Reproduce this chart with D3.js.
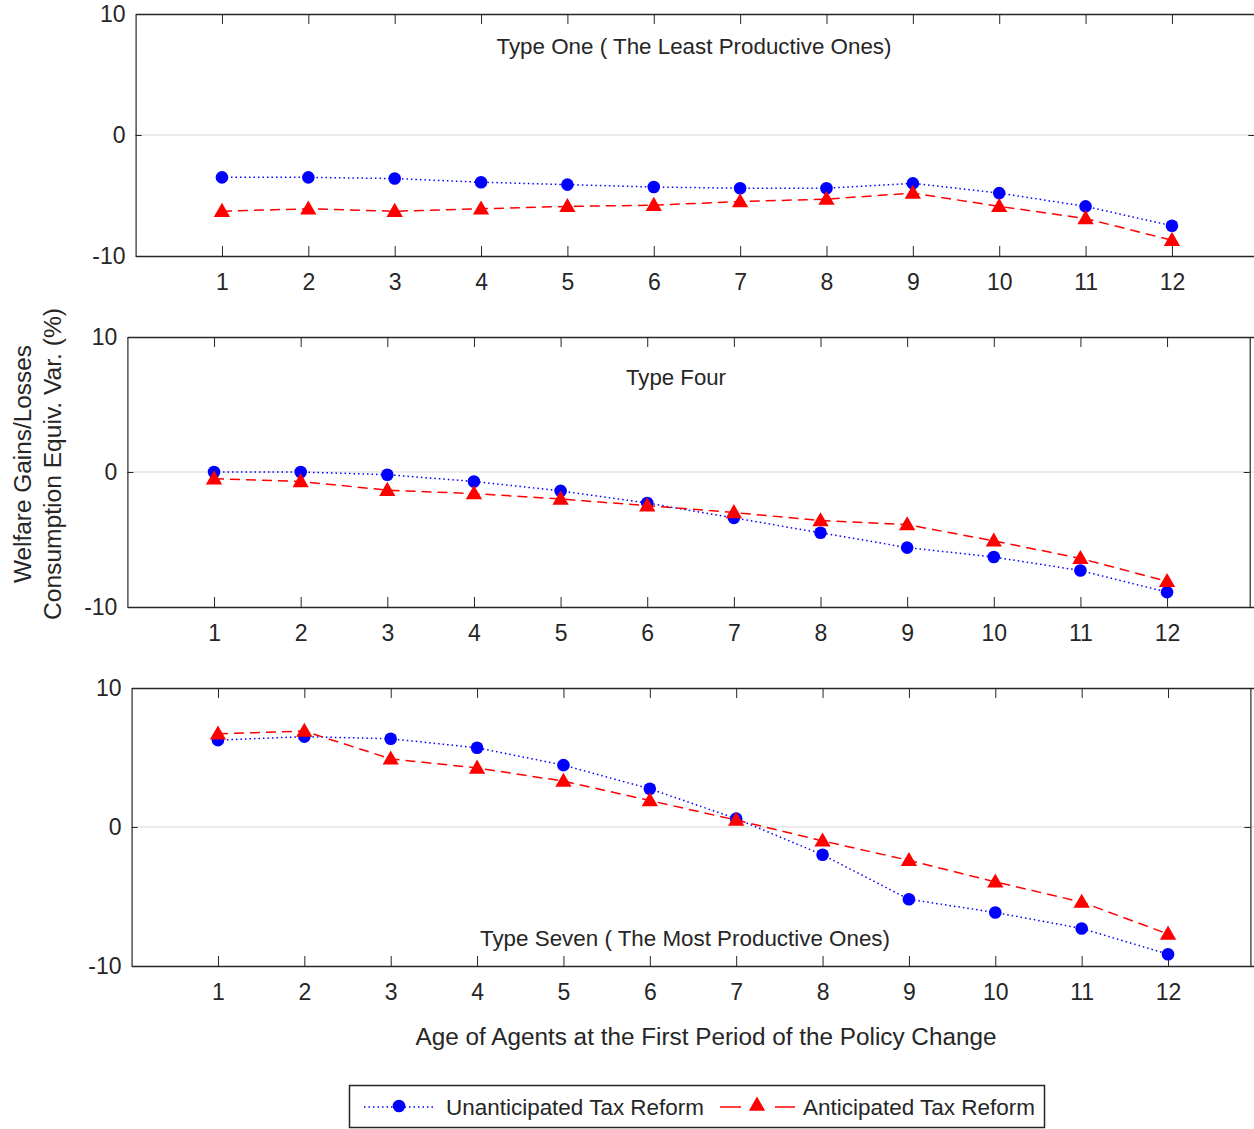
<!DOCTYPE html>
<html>
<head>
<meta charset="utf-8">
<script src="https://cdn.jsdelivr.net/npm/d3@7"></script>
<style>
  body { margin: 0; background: #fff; }
  text { font-family: "Liberation Sans", Arial, sans-serif; fill: #262626; }
  text.title { font-family: "Liberation Sans Narrow", "Arial Narrow", "Liberation Sans", sans-serif; }
</style>
</head>
<body>
<svg id="chart" width="1254" height="1129"></svg>
<script>
// data
const ages = [1, 2, 3, 4, 5, 6, 7, 8, 9, 10, 11, 12];
const yTicks = [-10, 0, 10];

const unanticipatedOne   = [-3.5, -3.5, -3.6, -3.9, -4.1, -4.3, -4.4, -4.4, -4.0, -4.8, -5.9, -7.5];
const anticipatedOne     = [-6.3, -6.1, -6.3, -6.1, -5.9, -5.8, -5.5, -5.3, -4.8, -5.9, -6.9, -8.7];
const unanticipatedFour  = [0.0, 0.0, -0.2, -0.7, -1.4, -2.3, -3.4, -4.5, -5.6, -6.3, -7.3, -8.9];
const anticipatedFour    = [-0.5, -0.7, -1.35, -1.6, -2.0, -2.5, -3.0, -3.6, -3.9, -5.1, -6.4, -8.1];
const unanticipatedSeven = [6.25, 6.5, 6.35, 5.7, 4.45, 2.75, 0.6, -2.0, -5.2, -6.15, -7.3, -9.15];
const anticipatedSeven   = [6.7, 6.9, 4.9, 4.25, 3.3, 1.9, 0.5, -1.0, -2.4, -3.95, -5.4, -7.7];

const titles = ["Type One ( The Least Productive Ones)", "Type Four", "Type Seven ( The Most Productive Ones)"];

const blue = "#0000ff", red = "#ff0000", ink = "#262626";

// panel boxes (pixel geometry only)
const panels = [
  {x0: 135.6, x1: 1258.3, top: 14,  bottom: 256, unant: unanticipatedOne,   ant: anticipatedOne,   title: titles[0], tx: 694, ty: 54,  tw: 395},
  {x0: 127.4, x1: 1253.7, top: 337, bottom: 607, unant: unanticipatedFour,  ant: anticipatedFour,  title: titles[1], tx: 676, ty: 385, tw: 100},
  {x0: 131.6, x1: 1254.4, top: 688, bottom: 966, unant: unanticipatedSeven, ant: anticipatedSeven, title: titles[2], tx: 685, ty: 946, tw: 410}
];

const svg = d3.select("#chart");

const tri = d3.symbol().type(d3.symbolTriangle).size(115);
const plain = d => String(d);   // MATLAB uses a hyphen, not a unicode minus

panels.forEach(p => {
  const x = d3.scaleLinear().domain([0, 13]).range([p.x0, p.x1]);
  const y = d3.scaleLinear().domain([-10, 10]).range([p.bottom, p.top]);
  const g = svg.append("g");

  // zero gridline
  g.append("line")
    .attr("x1", x(0)).attr("x2", x(13))
    .attr("y1", y(0)).attr("y2", y(0))
    .attr("stroke", "#e3e3e3").attr("stroke-width", 1.5);

  // bottom axis with inward ticks
  const xb = d3.axisBottom(x).tickValues(ages).tickSizeInner(-10).tickSizeOuter(0).tickPadding(18).tickFormat(plain);
  const gb = g.append("g").attr("transform", `translate(0,${p.bottom})`).call(xb);
  gb.select(".domain").attr("stroke", ink).attr("stroke-width", 1.5);
  gb.selectAll(".tick line").attr("stroke", ink);
  gb.selectAll(".tick text").style("font-size", "23px").attr("fill", ink).attr("dy", "0.71em");

  // top axis ticks
  const xt = d3.axisTop(x).tickValues(ages).tickSizeInner(-10).tickSizeOuter(0).tickFormat("");
  const gt = g.append("g").attr("transform", `translate(0,${p.top})`).call(xt);
  gt.select(".domain").attr("stroke", ink).attr("stroke-width", 1.5);
  gt.selectAll(".tick line").attr("stroke", ink);

  // left axis
  const yl = d3.axisLeft(y).tickValues(yTicks).tickSizeInner(-6).tickSizeOuter(0).tickPadding(10).tickFormat(plain);
  const gl = g.append("g").attr("transform", `translate(${x(0)},0)`).call(yl);
  gl.select(".domain").attr("stroke", ink).attr("stroke-width", 1.2);
  gl.selectAll(".tick line").attr("stroke", ink);
  gl.selectAll(".tick text").style("font-size", "23px").attr("fill", ink);

  // right edge
  const yr = d3.axisRight(y).tickValues(yTicks).tickSizeInner(-6).tickSizeOuter(0).tickFormat("");
  const gr = g.append("g").attr("transform", `translate(${x(13) - 4},0)`).call(yr);
  gr.select(".domain").attr("stroke", ink).attr("stroke-width", 1.2);
  gr.selectAll(".tick line").attr("stroke", ink);

  // title
  g.append("text")
    .attr("class", "title")
    .attr("x", p.tx).attr("y", p.ty)
    .attr("text-anchor", "middle")
    .attr("textLength", p.tw).attr("lengthAdjust", "spacingAndGlyphs")
    .style("font-size", "22px")
    .text(p.title);

  const line = d3.line().x((d, i) => x(ages[i])).y(d => y(d));

  g.append("path").datum(p.unant)
    .attr("d", line).attr("fill", "none")
    .attr("stroke", blue).attr("stroke-width", 1.5).attr("stroke-dasharray", "1.5,3");

  g.append("path").datum(p.ant)
    .attr("d", line).attr("fill", "none")
    .attr("stroke", red).attr("stroke-width", 1.5).attr("stroke-dasharray", "10,6");

  g.selectAll(".dot").data(p.unant).enter().append("circle")
    .attr("cx", (d, i) => x(ages[i])).attr("cy", d => y(d))
    .attr("r", 6.3).attr("fill", blue);

  g.selectAll(".tri").data(p.ant).enter().append("path")
    .attr("d", tri)
    .attr("transform", (d, i) => `translate(${x(ages[i])},${y(d) + 1})`)
    .attr("fill", red);
});

// y label (two lines)
svg.append("text")
  .attr("transform", "translate(31,464) rotate(-90)")
  .attr("text-anchor", "middle")
  .attr("textLength", 238).attr("lengthAdjust", "spacingAndGlyphs")
  .style("font-size", "23px")
  .text("Welfare Gains/Losses");
svg.append("text")
  .attr("transform", "translate(61,464) rotate(-90)")
  .attr("text-anchor", "middle")
  .attr("textLength", 312).attr("lengthAdjust", "spacingAndGlyphs")
  .style("font-size", "23px")
  .text("Consumption Equiv. Var. (%)");

// x label
svg.append("text")
  .attr("x", 706).attr("y", 1045)
  .attr("text-anchor", "middle")
  .attr("textLength", 581).attr("lengthAdjust", "spacingAndGlyphs")
  .style("font-size", "23px")
  .text("Age of Agents at the First Period of the Policy Change");

// legend
const lg = svg.append("g");
lg.append("rect")
  .attr("x", 349.5).attr("y", 1085.5).attr("width", 695).attr("height", 42)
  .attr("fill", "#fff").attr("stroke", ink).attr("stroke-width", 1.5);
lg.append("line").attr("x1", 364).attr("x2", 434).attr("y1", 1107).attr("y2", 1107)
  .attr("stroke", blue).attr("stroke-width", 1.5).attr("stroke-dasharray", "1.5,3");
lg.append("circle").attr("cx", 399).attr("cy", 1106).attr("r", 6.3).attr("fill", blue);
lg.append("text").attr("x", 446).attr("y", 1115)
  .attr("textLength", 258).attr("lengthAdjust", "spacingAndGlyphs")
  .style("font-size", "22px").text("Unanticipated Tax Reform");
lg.append("line").attr("x1", 720).attr("x2", 741).attr("y1", 1107).attr("y2", 1107)
  .attr("stroke", red).attr("stroke-width", 1.5);
lg.append("line").attr("x1", 775).attr("x2", 795).attr("y1", 1107).attr("y2", 1107)
  .attr("stroke", red).attr("stroke-width", 1.5);
lg.append("path").attr("d", tri).attr("transform", "translate(757,1106)").attr("fill", red);
lg.append("text").attr("x", 803).attr("y", 1115)
  .attr("textLength", 232).attr("lengthAdjust", "spacingAndGlyphs")
  .style("font-size", "22px").text("Anticipated Tax Reform");
</script>
</body>
</html>
